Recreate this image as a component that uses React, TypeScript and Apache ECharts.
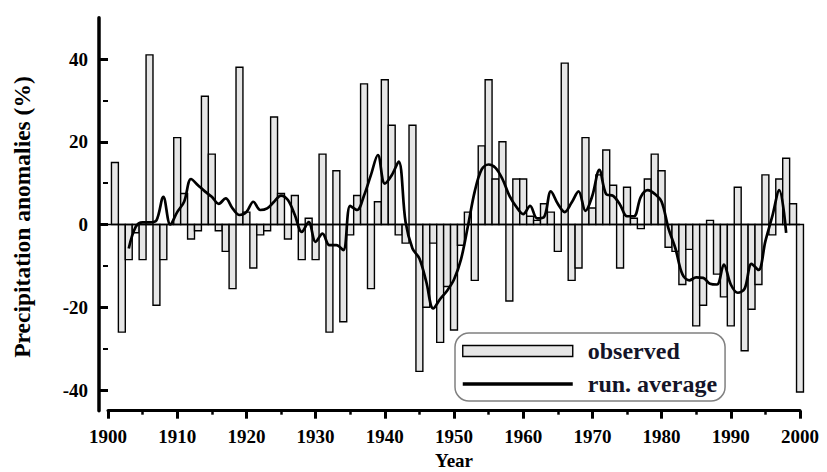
import { useEffect, useRef } from 'react';
import * as echarts from 'echarts';

const firstYear = 1901;
const observed = [
  15, -26, -8.5, -2, -8.5, 41, -19.5, -8.5, 0, 21,
  7.5, -3.5, -1.5, 31, 17, -1.5, -6.5, -15.5, 38, 3,
  -10.5, -2.5, -1.5, 26, 7.5, -3.5, 7, -8.5, 1.5, -8.5,
  17, -26, 13, -23.5, -2.5, 7, 34, -15.5, 5.5, 35,
  24, -2.5, -4.5, 24, -35.5, -20, -4.5, -28.5, -15, -25.5,
  -5, 3, -13.5, 19, 35, 11, 20, -18.5, 11, 11,
  2, 1, 5, 3, -6.5, 39, -13.5, -10.5, 21, 4,
  12, 18, 9.5, -10.5, 9, 1.5, -1, 11, 17, 13,
  -5.5, -6.5, -14.5, -6, -24.5, -19.5, 1, -12, -17.5, -24.5,
  9, -30.5, -20.5, -14.5, 12, -2.5, 11, 16, 5, -40.5,
];
const runStartYear = 1903;
const runAverage = [
  -5.8, -0.6, 0.5, 0.5, 1, 6.7, 0, 3,
  5.5, 11, 9.5, 8, 6.7, 5, 6.3, 3.9, 2.3, 3,
  5.5, 3.5, 3.9, 5.5, 7, 5.9, 2.3, -1.8, 0.6, -4.2,
  -2.2, -5, -5, -6.2, 4.5, 3.5, 7, 12, 16.8, 9.9,
  11.9, 15.2, 0.6, -5.8, -8.2, -13.9, -20.3, -18, -16, -13.3,
  -8.5, -0.5, 8, 13.3, 14.5, 13.7, 11, 7, 4.3, 2.5,
  4.5, 1.5, 1.8, 8, 5, 3, 5.3, 8, 3.3, 7,
  13.2, 7.3, 6.9, 4.8, 2, 2, 6.7, 8.3, 7.4, 5.5,
  -1, -5.8, -12, -13.5, -12.8, -12.9, -14.3, -14.5, -9.7, -14.5,
  -16.5, -15.5, -9.5, -11, -4, 2, 8.3, -2,
];
const yTickMin = -40;
const yTickMax = 40;
const yAxisMin = -45;
const yAxisMax = 50;
const xMin = 1900;
const xMax = 2000;

const serif = '"Liberation Serif", "Times New Roman", serif';
const barFill = '#e6e6e6';

export default function App() {
  const ref = useRef<HTMLDivElement>(null);
  useEffect(() => {
    if (!ref.current) return;
    const chart = echarts.init(ref.current, null, { renderer: 'svg' });
    const barData = observed.map((v, i) => [firstYear + i, v]);
    const lineData = runAverage.map((v, i) => [runStartYear + i, v]);
    const k = 4.1375;
    const y0 = 224.5;
    const H = 472;
    chart.setOption({
      animation: false,
      backgroundColor: '#fff',
      textStyle: { fontFamily: serif },
      grid: [
        { left: 108, right: 27, top: y0 - yAxisMax * k, bottom: H - (y0 - yAxisMin * k), outerBoundsMode: 'none', containLabel: false },
        { left: 108, right: 27, top: y0 - yTickMax * k, bottom: H - (y0 - yTickMin * k), outerBoundsMode: 'none', containLabel: false },
      ],
      xAxis: [
        {
          type: 'value', gridIndex: 0, min: xMin, max: xMax, interval: 10,
          axisLine: { show: true, onZero: false, lineStyle: { color: '#000', width: 3 } },
          axisTick: { show: true, inside: false, length: 8, lineStyle: { color: '#000', width: 3 } },
          minorTick: { show: true, splitNumber: 2, length: 4, lineStyle: { color: '#000', width: 2.5 } },
          splitLine: { show: false },
          axisLabel: {
            color: '#000', fontFamily: serif, fontWeight: 'bold', fontSize: 19, margin: 16,
            formatter: (v: number) => String(v),
          },
          name: 'Year', nameLocation: 'middle', nameGap: 39,
          nameTextStyle: { color: '#000', fontFamily: serif, fontWeight: 'bold', fontSize: 19 },
        },
        { type: 'value', gridIndex: 1, min: 0, max: 1, show: false },
      ],
      yAxis: [
        {
          type: 'value', gridIndex: 0, min: yAxisMin, max: yAxisMax, offset: 9,
          axisLine: { show: true, lineStyle: { color: '#000', width: 3.5 } },
          axisTick: { show: false }, axisLabel: { show: false }, splitLine: { show: false },
        },
        {
          type: 'value', gridIndex: 1, min: yTickMin, max: yTickMax, interval: 20, offset: 9,
          axisLine: { show: false },
          axisTick: { show: true, length: 9, lineStyle: { color: '#000', width: 3 } },
          minorTick: { show: true, splitNumber: 2, length: 5, lineStyle: { color: '#000', width: 2 } },
          splitLine: { show: false },
          axisLabel: { color: '#000', fontFamily: serif, fontWeight: 'bold', fontSize: 19, margin: 11 },
        },
      ],
      legend: {
        orient: 'vertical', left: 455, top: 333,
        borderColor: '#808080', borderWidth: 1.5, borderRadius: 14,
        padding: [6, 8, 5, 6], itemGap: 9,
        itemWidth: 110, itemHeight: 11,
        textStyle: { color: '#141428', fontFamily: serif, fontWeight: 'bold', fontSize: 24, padding: [0, 0, 0, 10] },
        data: [
          { name: 'observed', icon: 'rect', itemStyle: { color: barFill, borderColor: '#000', borderWidth: 1.4 } },
          {
            name: 'run. average',
            itemStyle: { color: 'rgba(0,0,0,0)', borderColor: 'rgba(0,0,0,0)', borderWidth: 0, opacity: 0 },
            lineStyle: { width: 3.5, color: '#000' },
          },
        ],
      },
      graphic: [
        {
          type: 'text', x: 22, y: 217, rotation: Math.PI / 2,
          style: {
            text: 'Precipitation anomalies (%)', fill: '#000', font: `bold 23.5px ${serif}`,
            textAlign: 'center', textVerticalAlign: 'middle',
          },
        },
      ],
      series: [
        {
          name: 'observed', type: 'custom', xAxisIndex: 0, yAxisIndex: 0,
          data: barData,
          encode: { x: 0, y: 1 },
          itemStyle: { color: barFill, borderColor: '#000', borderWidth: 1.4 },
          renderItem: (params: any, api: any) => {
            const yr = api.value(0);
            const v = api.value(1);
            const a = api.coord([yr - 0.5, 0]);
            const b = api.coord([yr + 0.5, v]);
            return {
              type: 'rect',
              shape: { x: a[0], y: Math.min(a[1], b[1]), width: b[0] - a[0], height: Math.abs(b[1] - a[1]) },
              style: { fill: barFill, stroke: '#000', lineWidth: 1.4 },
            };
          },
          markLine: {
            silent: true, symbol: ['none', 'none'], label: { show: false },
            lineStyle: { color: '#000', width: 1.3, type: 'solid' },
            data: [{ yAxis: 0 }],
          },
        },
        {
          name: 'run. average', type: 'line', xAxisIndex: 0, yAxisIndex: 0,
          data: lineData, symbol: 'none', smooth: 0.35, z: 5,
          lineStyle: { color: '#000', width: 2.7 },
          itemStyle: { color: '#000' },
        },
      ],
    });
    return () => chart.dispose();
  }, []);
  return <div ref={ref} style={{ position: 'fixed', left: 0, top: 0, width: 827, height: 472 }} />;
}
